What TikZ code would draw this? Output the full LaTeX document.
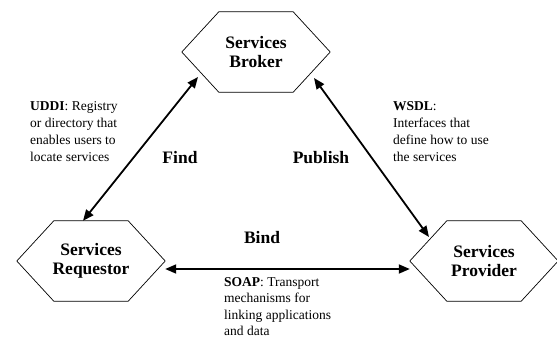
\documentclass[tikz,border=0pt]{standalone}
\usepackage{fontspec}
\setmainfont{Liberation Serif}
\usetikzlibrary{arrows.meta, calc}
\tikzset{
  >={Triangle[length=11pt, width=9pt]},
  hexa/.style={minimum width=148pt, minimum height=80pt, inner sep=0pt, align=center,
    font=\fontsize{17.5}{19}\selectfont\bfseries},
  link/.style={<->, line width=1.8pt},
  verb/.style={font=\fontsize{17.5}{19}\selectfont\bfseries, anchor=base, inner sep=0pt},
  note/.style={font=\fontsize{13.5}{17}\selectfont, align=left, anchor=north west, inner sep=0pt},
}
\begin{document}
\begin{tikzpicture}[x=1pt, y=-1pt]
  \useasboundingbox (0,0) rectangle (557,338);

  \node[hexa] (broker) at (256,52) {Services\\Broker};
  \node[hexa] (req) at (91,261) {Services\\Requestor};
  \node[hexa] (prov) at (484,261) {Services\\Provider};

  \foreach \n in {broker, req, prov}
    \draw[line width=0.7pt] (\n.west) -- ([xshift=37pt]\n.north west) -- ([xshift=-37pt]\n.north east)
      -- (\n.east) -- ([xshift=-37pt]\n.south east) -- ([xshift=37pt]\n.south west) -- cycle;

  \draw[link] ($(req.north)+(-8,0)$) -- ($(broker.center)+(-58,25)$);
  \draw[link] ($(broker.center)+(58,26)$) -- ($(prov.center)+(-55,-24)$);
  \draw[link] ($(req.east)+(0,8)$) -- ($(prov.west)+(0,8)$);

  \node[verb] (find) at (180,163) {Find};
  \node[verb] (publish) at (321,163) {Publish};
  \node[verb] (bind) at (262,243) {Bind};

  \node[note] (uddi) at (30,101) {\textbf{UDDI}: Registry\\or directory that\\enables users to\\locate services};
  \node[note] (wsdl) at (393,101) {\textbf{WSDL}:\\Interfaces that\\define how to use\\the services};
  \node[note, font=\fontsize{13.5}{16.5}\selectfont] (soap) at (224,277)
    {\textbf{SOAP}: Transport\\mechanisms for\\linking applications\\and data};
\end{tikzpicture}
\end{document}
